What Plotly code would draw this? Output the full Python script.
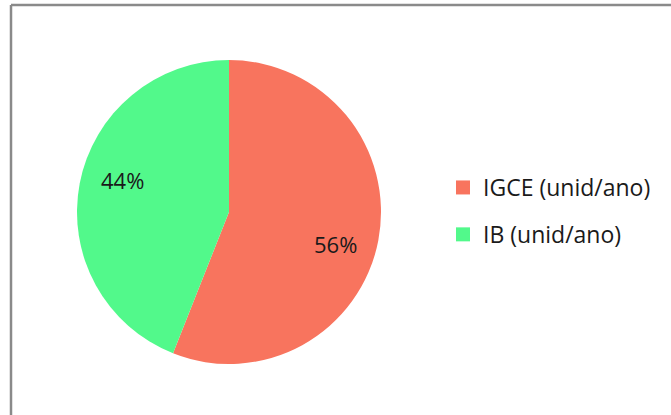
import math
import plotly.graph_objects as go

categories = ["IGCE (unid/ano)", "IB (unid/ano)"]
values = [56, 44]
colors = ["#F8745E", "#52F98B"]

W, H = 671, 415
CX, CY, R = 229, 212, 152  # pie centre / radius in pixels
FONT = "Open Sans"

fig = go.Figure()
fig.add_trace(go.Pie(
    labels=categories, values=values, sort=False, direction="clockwise", rotation=0,
    marker=dict(colors=colors, line=dict(width=0)),
    textinfo="none",
    domain=dict(x=[(CX - R) / W, (CX + R) / W], y=[(H - CY - R) / H, (H - CY + R) / H]),
    showlegend=False, hoverinfo="label+percent",
))
for c, col in zip(categories, colors):
    fig.add_trace(go.Scatter(
        x=[None], y=[None], mode="markers", name=c, legendgroup=c,
        marker=dict(symbol="square", size=14, color=col),
    ))

# percentage labels placed inside each slice
total = sum(values)
annotations = []
start = 0.0
for v in values:
    mid = (start + v / 2) / total * 360 + 6
    start += v
    rr = 0.73 * R
    px = CX + rr * math.sin(math.radians(mid))
    py = CY - rr * math.cos(math.radians(mid))
    annotations.append(dict(
        x=px / W, y=1 - py / H, xref="paper", yref="paper", showarrow=False,
        xanchor="center", yanchor="middle",
        text=f"{round(v / total * 100)}%",
        font=dict(family=FONT, size=22, color="#1a1a1a"),
    ))

fig.update_layout(
    width=W, height=H, margin=dict(l=0, r=0, t=0, b=0),
    paper_bgcolor="white", plot_bgcolor="white",
    xaxis=dict(visible=False), yaxis=dict(visible=False),
    annotations=annotations,
    legend=dict(x=443 / W, y=1 - 166 / H, xanchor="left", yanchor="top",
                tracegroupgap=14, font=dict(family=FONT, size=23, color="#1a1a1a"),
                itemwidth=30, bgcolor="rgba(0,0,0,0)"),
    shapes=[
        dict(type="line", xref="paper", yref="paper", x0=11 / W, x1=1, y0=1 - 5 / H, y1=1 - 5 / H,
             line=dict(color="#8a8a8a", width=2.5)),
        dict(type="line", xref="paper", yref="paper", x0=11 / W, x1=11 / W, y0=0, y1=1 - 5 / H,
             line=dict(color="#8a8a8a", width=2.5)),
    ],
)
fig.write_html("out.html", config={"displayModeBar": False},
               post_script="document.body.style.margin='0';")
